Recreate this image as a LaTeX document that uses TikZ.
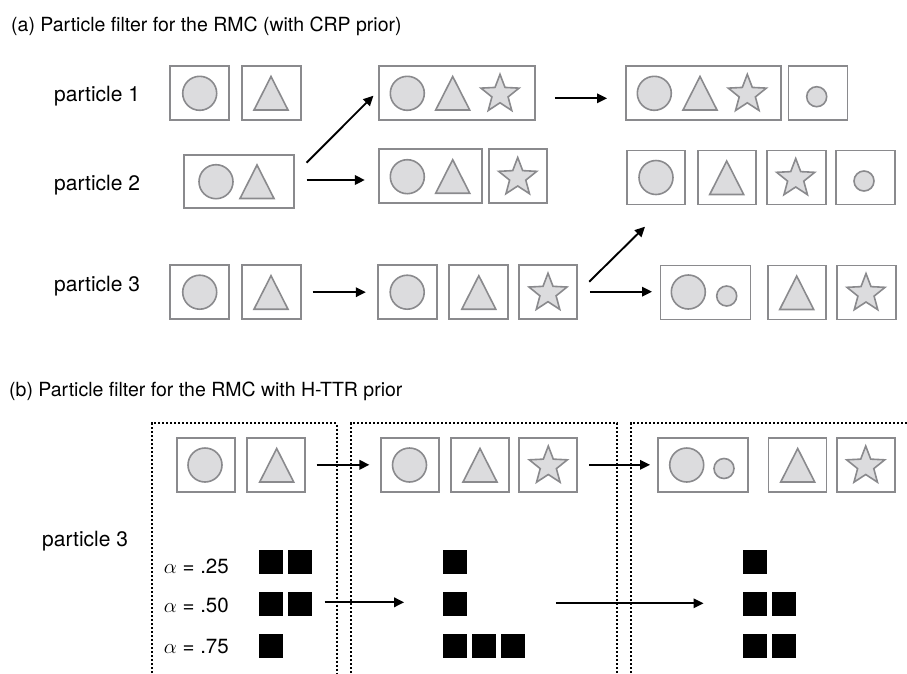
\documentclass[tikz,border=0pt]{standalone}
\usepackage{fontspec}
\setmainfont{TeX Gyre Heros}
\usetikzlibrary{arrows.meta,calc}
\definecolor{boxgray}{RGB}{138,138,141}
\definecolor{shapefill}{RGB}{220,220,222}
\tikzset{
  bx/.style={draw=boxgray, line width=1.8pt, inner sep=0pt, minimum height=54pt},
  shp/.style={draw=boxgray, fill=shapefill, line width=1.6pt, line join=miter},
  arr/.style={line width=1.9pt, -{Triangle[length=10pt,width=9.5pt]}},
  sq/.style={fill=black, minimum size=24pt, inner sep=0pt},
  dotln/.style={line width=2pt, dash pattern=on 2pt off 2pt},
  lbl/.style={font=\fontsize{21}{25}\selectfont, inner sep=0pt},
  ttl/.style={font=\fontsize{19.5}{23}\selectfont, inner sep=0pt},
  alab/.style={font=\fontsize{20.5}{24}\selectfont, inner sep=0pt}
}
\newcommand\shcirc[3]{\draw[shp] (#1,#2) circle[radius=#3];}
\newcommand\shtri[2]{\draw[shp] (#1,#2) ++(0,-16.5) -- ++(17,33.5) -- ++(-34,0) -- cycle;}
\newcommand\shstar[2]{\draw[shp] (#1,#2) +(-90:20) -- +(-126:8.5) -- +(-162:20) -- +(-198:8.5) -- +(-234:20) -- +(-270:8.5) -- +(-306:20) -- +(-342:8.5) -- +(-378:20) -- +(-414:8.5) -- cycle;}
\begin{document}
\begin{tikzpicture}[x=1pt,y=-1pt]
\useasboundingbox (0,0) rectangle (907,673);
% titles
\node[ttl, anchor=base west] (ta) at (11,31) {(a) Particle filter for the RMC (with CRP prior)};
\node[ttl, anchor=base west] (tb) at (9,396.7) {(b) Particle filter for the RMC with H-TTR prior};
% particle labels
\node[lbl, anchor=base west] (p1) at (54,101) {particle 1};
\node[lbl, anchor=base west] (p2) at (54,190) {particle 2};
\node[lbl, anchor=base west] (p3) at (54,291) {particle 3};
\node[lbl, anchor=base west] (p3b) at (42,546.7) {particle 3};
% ---- panel (a) boxes
\node[bx, minimum width=59pt] (A1) at (199.7,93) {};
\node[bx, minimum width=59pt] (A2) at (271.2,93) {};
\node[bx, minimum width=156pt] (B1) at (457,93) {};
\node[bx, minimum width=155pt] (C1) at (703.7,93) {};
\node[bx, minimum width=59pt] (C2) at (818,93) {};
\node[bx, minimum width=110pt, minimum height=53pt] (D1) at (239,181.7) {};
\node[bx, minimum width=103pt] (E1) at (430.2,176.2) {};
\node[bx, minimum width=58pt] (E2) at (518.3,176.2) {};
\node[bx, minimum width=58pt] (F1) at (655.8,177.5) {};
\node[bx, minimum width=58pt] (F2) at (726.7,177.5) {};
\node[bx, minimum width=59pt] (F3) at (796.2,177.5) {};
\node[bx, minimum width=59pt] (F4) at (865.3,177.5) {};
\node[bx, minimum width=59pt] (G1) at (199.7,292.2) {};
\node[bx, minimum width=59pt] (G2) at (271.2,292.2) {};
\node[bx, minimum width=59pt] (H1) at (407.2,292.2) {};
\node[bx, minimum width=59pt] (H2) at (478.8,292.2) {};
\node[bx, minimum width=58pt] (H3) at (548,292.2) {};
\node[bx, minimum width=90pt] (I1) at (705.5,292.5) {};
\node[bx, minimum width=58pt] (I2) at (797,292.5) {};
\node[bx, minimum width=59pt] (I3) at (866.3,292.5) {};
% shapes (a)
\shcirc{199.7}{93.3}{17}
\shtri{271}{93}
\shcirc{407.3}{93.3}{17}
\shtri{452.7}{93}
\shstar{500}{94.3}
\shcirc{654.3}{93.3}{17}
\shtri{700}{93}
\shstar{747.3}{94.3}
\shcirc{816.7}{96.7}{10}
\shcirc{216}{181.7}{17}
\shtri{257}{181.5}
\shcirc{407.3}{176.7}{17}
\shtri{452.7}{176.2}
\shstar{517.7}{177.5}
\shcirc{656}{177.5}{17}
\shtri{726.7}{177.5}
\shstar{795.7}{178.5}
\shcirc{864}{181}{10}
\shcirc{199.7}{292.2}{17}
\shtri{271}{292.2}
\shcirc{407.2}{292.2}{17}
\shtri{478.8}{292.2}
\shstar{548}{293.2}
\shcirc{688.3}{292}{17}
\shcirc{726.7}{296}{10}
\shtri{796.7}{292.5}
\shstar{866}{293.5}
% arrows (a)
\draw[arr] ($(D1.north east)+(11.7,8.3)$) -- ($(B1.west)+(-4.7,2.7)$);
\draw[arr, shorten <=11.7pt, shorten >=13pt] (D1.east |- 0,180) -- (E1.west |- 0,180);
\draw[arr, shorten <=19pt, shorten >=18.3pt] (B1.east |- 0,98.3) -- (C1.west |- 0,98.3);
\draw[arr, shorten <=11pt, shorten >=11pt] (G2.east) -- (H1.west);
\coordinate (Fup) at (645,226.7);
\draw[arr] ($(H3.east)+(11.3,-10.5)$) -- (Fup);
\draw[arr, shorten <=12pt, shorten >=7.6pt] (H3.east |- 0,291.7) -- (I1.west |- 0,291.7);
% ---- panel (b) dotted frames
\draw[dotln] (151.7,673) -- (151.7,423.3) -- (336.7,423.3) -- (336.7,673);
\draw[dotln] (350.7,673) -- (350.7,423.3) -- (617.3,423.3) -- (617.3,673);
\draw[dotln] (630.7,673) -- (630.7,423.3) -- (907,423.3);
% boxes (b)
\node[bx, minimum width=58pt] (J1) at (205.8,464.8) {};
\node[bx, minimum width=58pt] (J2) at (276,464.8) {};
\node[bx, minimum width=58pt] (K1) at (410,464.8) {};
\node[bx, minimum width=58pt] (K2) at (480,464.8) {};
\node[bx, minimum width=58pt] (K3) at (548.3,464.8) {};
\node[bx, minimum width=90pt] (L1) at (703.2,464.8) {};
\node[bx, minimum width=58pt] (L2) at (797.5,464.8) {};
\node[bx, minimum width=58pt] (L3) at (865.7,464.8) {};
\shcirc{205}{465}{17}
\shtri{276.7}{465}
\shcirc{409.5}{465}{17}
\shtri{480}{465}
\shstar{548.3}{466}
\shcirc{686.7}{465}{17}
\shcirc{724}{468.5}{10}
\shtri{797.7}{465}
\shstar{865.7}{466}
\draw[arr, shorten <=10.7pt, shorten >=10.7pt] (J2.east) -- (K1.west);
\draw[arr, shorten <=11pt, shorten >=7.3pt] (K3.east) -- (L1.west);
% alpha labels
\node[alab, anchor=base east] (al1) at (229,573) {$\alpha$ = .25};
\node[alab, anchor=base east] (al2) at (229,612) {$\alpha$ = .50};
\node[alab, anchor=base east] (al3) at (229,653) {$\alpha$ = .75};
% black squares
\node[sq] (q1) at (271.3,562.2) {};
\node[sq] (q2) at (299.7,562.2) {};
\node[sq] (q3) at (271.3,604.2) {};
\node[sq] (q4) at (299.7,604.2) {};
\node[sq] (q5) at (271.3,645.8) {};
\node[sq] (r1) at (455.3,562.2) {};
\node[sq] (r2) at (455.3,604.2) {};
\node[sq] (r3) at (455.3,645.8) {};
\node[sq] (r4) at (484.3,645.8) {};
\node[sq] (r5) at (513,645.8) {};
\node[sq] (s1) at (755,562.2) {};
\node[sq] (s2) at (755,604.2) {};
\node[sq] (s3) at (784,604.2) {};
\node[sq] (s4) at (755,645.8) {};
\node[sq] (s5) at (784,645.8) {};
\draw[arr, shorten <=12.6pt, shorten >=39pt] (q4.east |- 0,602.3) -- (r2.west |- 0,602.3);
\draw[arr, shorten <=88.4pt, shorten >=39.3pt] (r2.east |- 0,603.3) -- (s2.west |- 0,603.3);
\end{tikzpicture}
\end{document}
